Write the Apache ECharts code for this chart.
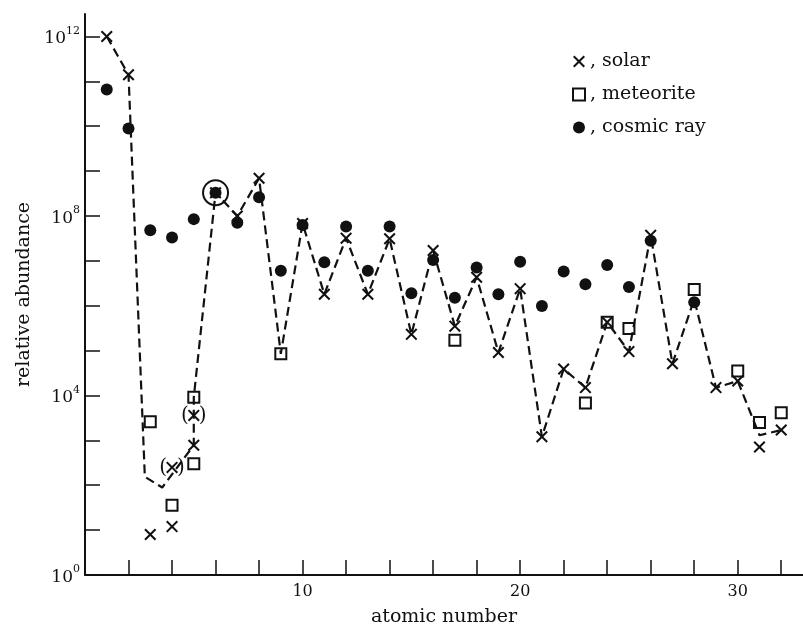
<!DOCTYPE html>
<html><head><meta charset="utf-8">
<script src="https://cdn.jsdelivr.net/npm/echarts@6/dist/echarts.min.js"></script>
<style>html,body{margin:0;padding:0;background:#fff}#c{width:803px;height:632px}</style>
</head><body><div id="c"></div>
<script>
// ---- data (relative abundance vs atomic number) ----
const solarZ = [1,2,3,4,5,6,7,8,10,11,12,13,14,15,16,17,18,19,20,21,22,23,24,25,26,27,29,30,31,32];
const solarAbund = [1.0e12,1.4e11,8,12,780,3.3e8,1.0e8,6.9e8,6.8e7,1.8e6,3.2e7,1.8e6,3.1e7,2.3e5,1.7e7,3.5e5,4.3e6,9.1e4,2.4e6,1.2e3,3.9e4,1.5e4,4.3e5,9.5e4,3.7e7,5.1e4,1.5e4,2.1e4,710,1.7e3];

const solarUncertainZ = [4,5];
const solarUncertainAbund = [250,3.6e3];

const meteoriteZ = [3,4,5,5,9,17,23,24,25,28,30,31,32];
const meteoriteAbund = [2.6e3,36,9.1e3,300,8.5e4,1.7e5,6.8e3,4.3e5,3.1e5,2.3e6,3.5e4,2.5e3,4.1e3];

const cosmicZ = [1,2,3,4,5,6,7,8,9,10,11,12,13,14,15,16,17,18,19,20,21,22,23,24,25,26,28];
const cosmicAbund = [6.6e10,8.9e9,4.8e7,3.3e7,8.5e7,3.3e8,7.1e7,2.6e8,6.0e6,6.3e7,9.3e6,5.8e7,6.0e6,5.8e7,1.9e6,1.05e7,1.5e6,7.1e6,1.8e6,9.5e6,9.8e5,5.8e6,3.0e6,8.1e6,2.6e6,2.8e7,1.2e6];

// dashed curve of adopted abundances
const adoptedZ = [1,2,2.75,3.55,5,5,6,7,8,9,10,11,12,13,14,15,16,17,18,19,20,21,22,23,24,25,26,27,28,29,30,31,32];
const adoptedAbund = [1e12,1.4e11,155,89,780,9.1e3,3.3e8,1.0e8,6.9e8,8.5e4,6.8e7,1.8e6,3.2e7,1.8e6,3.1e7,2.3e5,1.7e7,3.5e5,4.3e6,9.1e4,2.4e6,1.2e3,3.9e4,1.5e4,4.3e5,9.5e4,3.7e7,5.1e4,1.4e6,1.5e4,2.1e4,1.3e3,1.7e3];

// circled normalisation point (element Z)
const normalisationZ = [6];

const xTicks = [0,2,4,6,8,10,12,14,16,18,20,22,24,26,28,30,32];
const xLabels = [10,20,30];
const yTicks = [1,1e1,1e2,1e3,1e4,1e5,1e6,1e7,1e8,1e9,1e10,1e11,1e12];
const yLabelExponents = [0,4,8,12];

// ---------------------------------------------------------------------------
const FONT = 'DejaVu Serif';
const INK = '#111';
const X_PATH = 'path://M0,1.2L1.2,0L5,3.8L8.8,0L10,1.2L6.2,5L10,8.8L8.8,10L5,6.2L1.2,10L0,8.8L3.8,5Z';
const pairs = (zs, vs) => zs.map((z, i) => [z, vs[i]]);
const normalisationData = normalisationZ.map(z => [z, cosmicAbund[cosmicZ.indexOf(z)]]);

const chart = echarts.init(document.getElementById('c'), null, {renderer: 'canvas'});
chart.setOption({
  animation: false,
  backgroundColor: '#fff',
  grid: {left: 85, right: 0, top: 14, bottom: 53},
  legend: {
    orient: 'vertical', left: 567, top: 46,
    itemWidth: 12, itemHeight: 12, itemGap: 12,
    selectedMode: false,
    data: [
      {name: 'solar', itemStyle: {color: INK, opacity: 1}},
      {name: 'meteorite', itemStyle: {color: 'transparent', borderColor: INK, borderWidth: 2, opacity: 1}},
      {name: 'cosmic ray', itemStyle: {color: INK, opacity: 1}}
    ],
    formatter: n => ', ' + n,
    textStyle: {fontFamily: FONT, fontSize: 19, color: INK, lineHeight: 21}
  },
  xAxis: {
    type: 'value', min: 0, max: 33, interval: 2,
    name: 'atomic number', nameLocation: 'middle', nameGap: 33,
    nameTextStyle: {fontFamily: FONT, fontSize: 19, color: INK},
    axisLine: {lineStyle: {color: INK, width: 2}},
    axisTick: {inside: true, length: 15, customValues: xTicks, lineStyle: {color: INK, width: 1.5}},
    axisLabel: {
      customValues: xLabels,
      fontFamily: FONT, fontSize: 16, color: INK, margin: 9
    },
    splitLine: {show: false}
  },
  yAxis: {
    type: 'log', logBase: 10, min: 1, max: 3.1623e12, interval: 1,
    name: 'relative abundance', nameLocation: 'middle', nameGap: 50,
    nameTextStyle: {fontFamily: FONT, fontSize: 19, color: INK},
    axisLine: {lineStyle: {color: INK, width: 2}},
    axisTick: {inside: true, length: 15, customValues: yTicks, lineStyle: {color: INK, width: 1.5}},
    axisLabel: {
      margin: 5,
      formatter: v => {
        const e = Math.log10(v);
        const r = Math.round(e);
        if (Math.abs(e - r) > 1e-6 || !yLabelExponents.includes(r)) return '';
        return '{a|10}{s|' + r + '}';
      },
      rich: {
        a: {fontFamily: FONT, fontSize: 17, color: INK, lineHeight: 22, verticalAlign: 'bottom'},
        s: {fontFamily: FONT, fontSize: 11, color: INK, lineHeight: 22, verticalAlign: 'top'}
      }
    },
    splitLine: {show: false}
  },
  series: [
    {
      name: 'adopted', type: 'line', data: pairs(adoptedZ, adoptedAbund),
      symbol: 'none', silent: true, z: 1,
      lineStyle: {color: INK, width: 2.2, type: [9, 5]}
    },
    {
      name: 'solar', type: 'scatter', data: pairs(solarZ, solarAbund),
      symbol: X_PATH, symbolSize: 12, z: 3,
      itemStyle: {color: INK, opacity: 1}
    },
    {
      name: 'solar (uncertain)', type: 'scatter', data: pairs(solarUncertainZ, solarUncertainAbund),
      symbol: X_PATH, symbolSize: 12, z: 3,
      itemStyle: {color: INK, opacity: 1},
      label: {show: true, position: 'inside', formatter: '(\u2002)', fontFamily: FONT, fontSize: 20, color: INK}
    },
    {
      name: 'meteorite', type: 'scatter', data: pairs(meteoriteZ, meteoriteAbund),
      symbol: 'rect', symbolSize: 11, z: 3,
      itemStyle: {color: 'transparent', borderColor: INK, borderWidth: 2, opacity: 1}
    },
    {
      name: 'cosmic ray', type: 'scatter', data: pairs(cosmicZ, cosmicAbund),
      symbol: 'circle', symbolSize: 12, z: 3,
      itemStyle: {color: INK, opacity: 1}
    },
    {
      name: 'normalisation', type: 'scatter', data: normalisationData,
      symbol: 'circle', symbolSize: 25, z: 2, silent: true,
      itemStyle: {color: 'transparent', borderColor: INK, borderWidth: 2, opacity: 1}
    }
  ]
});
</script>
</body></html>
